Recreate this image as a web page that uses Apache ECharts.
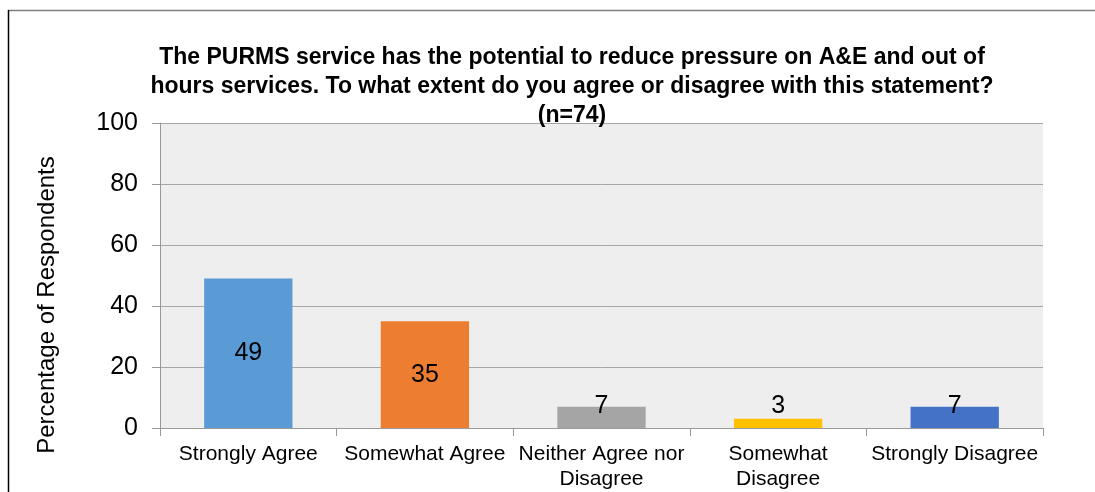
<!DOCTYPE html>
<html>
<head>
<meta charset="utf-8">
<script src="https://cdn.jsdelivr.net/npm/echarts@6/dist/echarts.min.js"></script>
<style>html,body{margin:0;padding:0;background:#fff}#c{width:1095px;height:492px}</style>
</head>
<body>
<div id="c"></div>
<script>
const titleText = "The PURMS service has the potential to reduce pressure on A&E and out of\nhours services. To what extent do you agree or disagree with this statement?\n(n=74)";
const yAxisTitle = "Percentage of Respondents";
const categories = ["Strongly Agree", "Somewhat Agree", "Neither Agree nor\nDisagree", "Somewhat\nDisagree", "Strongly Disagree"];
const values = [49, 35, 7, 3, 7];
const colors = ["#5B9BD5", "#ED7D31", "#A5A5A5", "#FFC000", "#4472C4"];
const yTicks = [0, 20, 40, 60, 80, 100];

const chart = echarts.init(document.getElementById('c'));
const data = values.map((v, i) => ({
  value: v,
  itemStyle: { color: colors[i] },
  label: v >= 20 ? { position: 'inside' } : { position: 'insideBottom', distance: 9 }
}));
chart.setOption({
  animation: false,
  backgroundColor: '#fff',
  title: {
    text: titleText,
    left: 567, top: 38, textAlign: 'center',
    textStyle: { fontFamily: 'Liberation Sans', fontWeight: 'bold', fontSize: 23, lineHeight: 29, color: '#000' }
  },
  grid: { left: 160, right: 52, top: 123, bottom: 62, show: true, backgroundColor: '#eeeeee', borderWidth: 0 },
  xAxis: {
    type: 'category', data: categories,
    axisLine: { lineStyle: { color: '#999', width: 1 } },
    axisTick: { show: true, interval: 0, length: 8, lineStyle: { color: '#999' } },
    axisLabel: { interval: 0, fontFamily: 'Liberation Sans', fontSize: 21, color: '#000', lineHeight: 25, margin: 14 }
  },
  yAxis: {
    type: 'value', min: yTicks[0], max: yTicks[yTicks.length - 1], interval: 20,
    axisLine: { show: true, lineStyle: { color: '#999' } },
    axisTick: { show: true, length: 8, lineStyle: { color: '#999' } },
    splitLine: { lineStyle: { color: '#a6a6a6' } },
    axisLabel: { fontFamily: 'Liberation Sans', fontSize: 25, color: '#000', margin: 22 }
  },
  graphic: [
    { type: 'line', shape: { x1: 8, y1: 10.5, x2: 1095, y2: 10.5 }, style: { stroke: '#7f7f7f', lineWidth: 1.5 }, silent: true },
    { type: 'line', shape: { x1: 8.5, y1: 10, x2: 8.5, y2: 492 }, style: { stroke: '#000', lineWidth: 1.5 }, silent: true },
    { type: 'text', x: 47, y: 305, rotation: Math.PI / 2,
      style: { text: yAxisTitle, fontFamily: 'Liberation Sans', fontSize: 24, fill: '#000', align: 'center', verticalAlign: 'middle' } }
  ],
  series: [{
    type: 'bar', data: data, barWidth: '50%',
    label: { show: true, fontFamily: 'Liberation Sans', fontSize: 25, color: '#000' }
  }]
});
</script>
</body>
</html>
